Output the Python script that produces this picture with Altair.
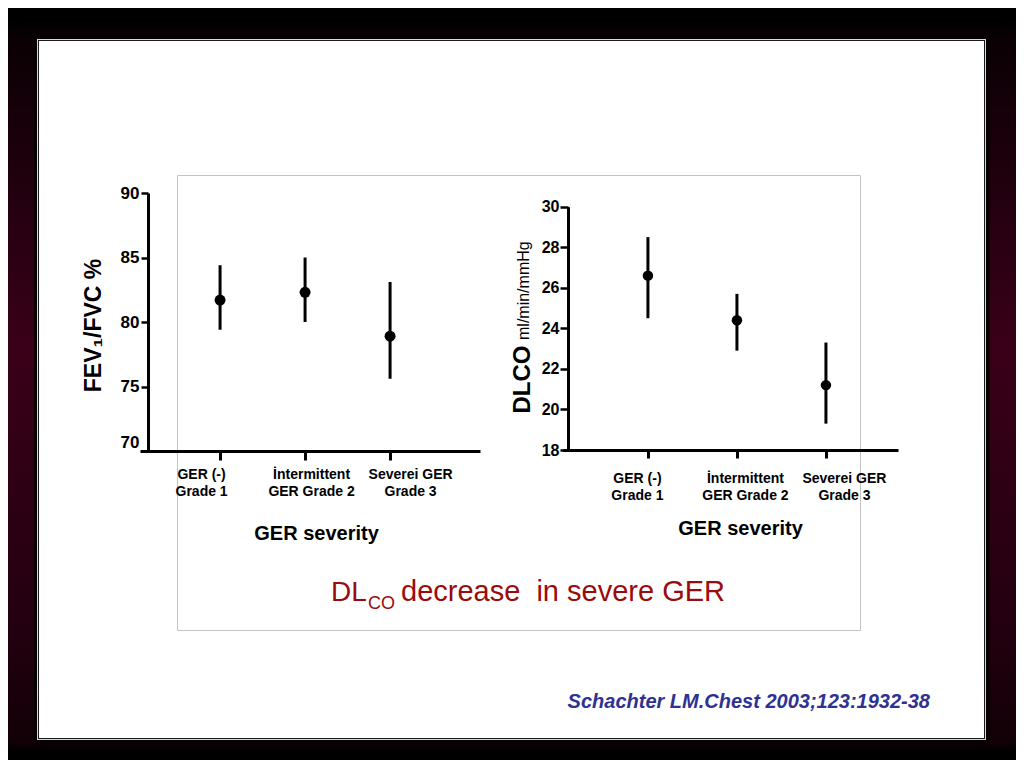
import json
import altair as alt
import pandas as pd

# ---------------- data ----------------
categories = ["GER (-)\nGrade 1", "İntermittent\nGER Grade 2", "Severei GER\nGrade 3"]
fev_mean = [81.7, 82.3, 78.9]
fev_low = [79.4, 80.0, 75.6]
fev_high = [84.4, 85.0, 83.1]
dlco_mean = [26.6, 24.4, 21.2]
dlco_low = [24.5, 22.9, 19.3]
dlco_high = [28.5, 25.7, 23.3]
fev_ticks = [70, 75, 80, 85, 90]
dlco_ticks = [18, 20, 22, 24, 26, 28, 30]

W, H = 1008, 752
FONT = "Liberation Sans"

one = pd.DataFrame({"k": [0]})


def box(x1, x2, y1, y2, **kw):
    return alt.Chart(one).mark_rect(**kw).encode(
        x=alt.value(x1), x2=alt.value(x2), y=alt.value(y1), y2=alt.value(y2)
    )


def label(text, x, y, **kw):
    return alt.Chart(one).mark_text(text=text, **kw).encode(x=alt.value(x), y=alt.value(y))


def label_offsets(offsets):
    conds = [
        {"test": f"datum.value === {json.dumps(c)}", "value": o}
        for c, o in zip(categories, offsets)
    ]
    return {"condition": conds, "value": 0}


grad = alt.LinearGradient(
    gradient="linear", x1=0, x2=0, y1=0, y2=1,
    stops=[
        alt.GradientStop(offset=0.0, color="#000000"),
        alt.GradientStop(offset=0.012, color="#000000"),
        alt.GradientStop(offset=0.05, color="#0c0005"),
        alt.GradientStop(offset=0.45, color="#3a0019"),
        alt.GradientStop(offset=0.84, color="#22000f"),
        alt.GradientStop(offset=0.975, color="#120007"),
        alt.GradientStop(offset=0.99, color="#000000"),
        alt.GradientStop(offset=1.0, color="#000000"),
    ],
)

decor = [
    box(0, W, 0, H, color=grad),
    box(26, 982, 31, 736, color="#050002"),
    box(29, 978, 31, 732, color="#d8d8d8"),
    box(30, 977, 32, 731, color="#1a1a1a"),
    box(31, 976, 33, 730, color="#ffffff"),
    box(169.5, 852.5, 167.5, 622.5, fillOpacity=0, stroke="#c4c4c4", strokeWidth=1),
]

# ---------------- left panel: FEV1/FVC ----------------
left_df = pd.DataFrame({"cat": categories, "mean": fev_mean, "lo": fev_low, "hi": fev_high})

lx = alt.X(
    "cat:N", sort=categories, title="GER severity",
    scale=alt.Scale(type="point", range=[132, 472], padding=1.024, align=0.471),
    axis=alt.Axis(
        orient="bottom", offset=-309, zindex=1, grid=False,
        domainWidth=3, domainColor="black", tickSize=9, tickWidth=3, tickColor="black",
        labelAngle=0, labelExpr="split(datum.label, '\\n')", labelFont=FONT,
        labelFontWeight="bold", labelFontSize=14, labelLineHeight=17, labelPadding=7,
        labelBaseline="top", labelColor="black", labelOffset=label_offsets([-19, 6, 20]),
        titleX=308, titleY=82, titleAngle=0, titleAlign="center", titleBaseline="middle",
        titleFont=FONT, titleFontSize=20, titleFontWeight="bold", titleColor="black",
    ),
)


def ly(field):
    return alt.Y(
        field, title="FEV₁/FVC %",
        scale=alt.Scale(domain=[70, 90], range=[443, 185], nice=False, zero=False),
        axis=alt.Axis(
            orient="left", offset=-140, zindex=1, grid=False, values=fev_ticks,
            domainWidth=3, domainColor="black", tickSize=7, tickWidth=2.5, tickColor="black",
            labelFont=FONT, labelFontWeight="bold", labelFontSize=17, labelPadding=2,
            labelColor="black",
            labelBaseline={"condition": {"test": "datum.value === 70", "value": "bottom"}, "value": "middle"},
            titleX=-55, titleY=317, titleAngle=270, titleAlign="center", titleBaseline="middle",
            titleFont=FONT, titleFontSize=23, titleFontWeight="bold", titleColor="black",
        ),
    )


left_rule = alt.Chart(left_df).mark_rule(color="black", strokeWidth=3).encode(
    x=lx, y=ly("lo:Q"), y2="hi:Q"
)
left_pts = alt.Chart(left_df).mark_circle(color="black", size=120, opacity=1).encode(
    x=lx, y=ly("mean:Q")
)
left_panel = alt.layer(left_rule, left_pts)

# ---------------- right panel: DLCO ----------------
right_df = pd.DataFrame({"cat": categories, "mean": dlco_mean, "lo": dlco_low, "hi": dlco_high})

rx = alt.X(
    "cat:N", sort=categories, title="GER severity",
    scale=alt.Scale(type="point", range=[555, 890], padding=0.882, align=0.541),
    axis=alt.Axis(
        orient="bottom", offset=-310, zindex=1, grid=False,
        domainWidth=3, domainColor="black", tickSize=8, tickWidth=3, tickColor="black",
        labelAngle=0, labelExpr="split(datum.label, '\\n')", labelFont=FONT,
        labelFontWeight="bold", labelFontSize=14, labelLineHeight=17, labelPadding=13,
        labelBaseline="top", labelColor="black", labelOffset=label_offsets([-11, 8, 18]),
        titleX=732, titleY=78, titleAngle=0, titleAlign="center", titleBaseline="middle",
        titleFont=FONT, titleFontSize=20, titleFontWeight="bold", titleColor="black",
    ),
)


def ry(field):
    return alt.Y(
        field, title="DLCO",
        scale=alt.Scale(domain=[18, 30], range=[442, 198.7], nice=False, zero=False),
        axis=alt.Axis(
            orient="left", offset=-560, zindex=1, grid=False, values=dlco_ticks,
            domainWidth=3, domainColor="black", tickSize=8, tickWidth=2.5, tickColor="black",
            labelFont=FONT, labelFontWeight="bold", labelFontSize=16, labelPadding=1,
            labelColor="black",
            titleX=-39, titleY=405, titleAngle=270, titleAlign="left", titleBaseline="alphabetic",
            titleFont=FONT, titleFontSize=24, titleFontWeight="bold", titleColor="black",
        ),
    )


right_rule = alt.Chart(right_df).mark_rule(color="black", strokeWidth=3).encode(
    x=rx, y=ry("lo:Q"), y2="hi:Q"
)
right_pts = alt.Chart(right_df).mark_circle(color="black", size=110, opacity=1).encode(
    x=rx, y=ry("mean:Q")
)
right_panel = alt.layer(right_rule, right_pts)

# ---------------- texts ----------------
texts = [
    label("ml/min/mmHg", 521, 332, angle=270, align="left", baseline="alphabetic",
          font=FONT, fontSize=16, color="black"),
    label("DL", 323, 593, align="left", baseline="alphabetic", font=FONT,
          fontSize=28, color="#9a0b0b"),
    label("CO", 360, 601, align="left", baseline="alphabetic", font=FONT,
          fontSize=18, color="#9a0b0b"),
    label("decrease\u00a0 in severe GER", 393, 593, align="left", baseline="alphabetic",
          font=FONT, fontSize=29, color="#9a0b0b"),
    label("Schachter LM.Chest 2003;123:1932-38", 922, 700, align="right",
          baseline="alphabetic", font=FONT, fontSize=20, fontStyle="italic",
          fontWeight="bold", color="#2e3192"),
]

chart = (
    alt.layer(*decor, left_panel, right_panel, *texts)
    .resolve_scale(x="independent", y="independent")
    .properties(width=W, height=H, autosize="none", padding=0)
    .configure_view(strokeWidth=0)
)

chart.save("out.html", embed_options={"renderer": "svg", "actions": False})
